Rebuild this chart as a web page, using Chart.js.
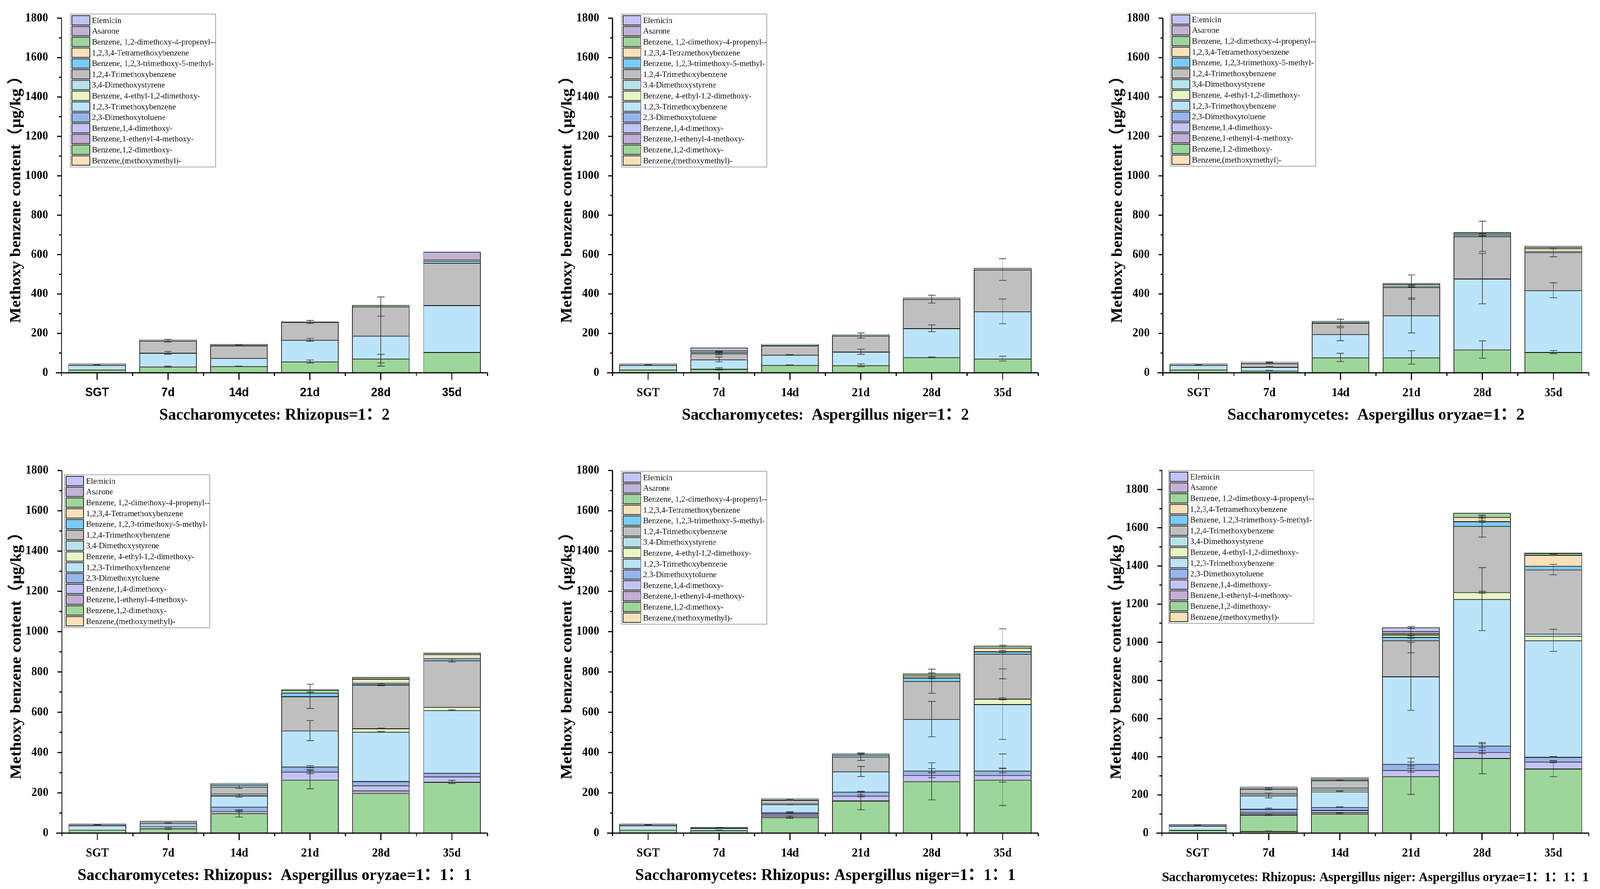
<!DOCTYPE html>
<html>
<head>
<meta charset="utf-8">
<title>Methoxy benzene content</title>
<script src="https://cdn.jsdelivr.net/npm/chart.js@4.4.1/dist/chart.umd.min.js"></script>
<style>
  html, body { margin: 0; padding: 0; background: #ffffff; overflow: hidden; }
  #sheet { position: absolute; left: 0; top: 0; width: 4317px; height: 2275px; transform-origin: 0 0; background: #fff; }
  #sheet canvas { position: absolute; }
</style>
</head>
<body>
<div id="sheet">
  <canvas id="p1"></canvas>
  <canvas id="p2"></canvas>
  <canvas id="p3"></canvas>
  <canvas id="p4"></canvas>
  <canvas id="p5"></canvas>
  <canvas id="p6"></canvas>
</div>
<script>
// Stacked methoxybenzene content, six fermentation groups

const days = ['SGT', '7d', '14d', '21d', '28d', '35d'];

// stack order, bottom to top (legend lists them top to bottom)
const compounds = [
  'Benzene,(methoxymethyl)-',
  'Benzene,1,2-dimethoxy-',
  'Benzene,1-ethenyl-4-methoxy-',
  'Benzene,1,4-dimethoxy-',
  '2,3-Dimethoxytoluene',
  '1,2,3-Trimethoxybenzene',
  'Benzene, 4-ethyl-1,2-dimethoxy-',
  '3,4-Dimethoxystyrene',
  '1,2,4-Trimethoxybenzene',
  'Benzene, 1,2,3-trimethoxy-5-methyl-',
  '1,2,3,4-Tetramethoxybenzene',
  'Benzene, 1,2-dimethoxy-4-propenyl--',
  'Asarone',
  'Elemicin'
];

const compoundColors = [
  '#f8e1b9', '#9dd69a', '#c2aed6', '#c3c3f9', '#97b5ec', '#bbe4fb', '#e6f7c4',
  '#b7e2ea', '#bfbfbf', '#7acbf5', '#f8e1b9', '#9dd69a', '#c2b2d6', '#c3c3f9'
];

// values in µg/kg, one row per compound, one column per day
const rhizopus12 = [
  [0.5, 0, 0, 0, 0, 0],
  [16, 31, 33, 57, 72, 105],
  [0.5, 0, 0, 0, 0, 0],
  [0.5, 0, 0, 0, 0, 0],
  [0.5, 0, 0, 0, 0, 0],
  [21, 70, 42, 110, 116, 238],
  [0.5, 0, 0, 0, 0, 0],
  [0.5, 0, 0, 0, 0, 0],
  [5, 62, 64, 91, 148, 215],
  [1, 2, 1, 1, 1, 11],
  [0.5, 1, 0, 0, 0, 7],
  [0.5, 3, 5, 2, 6, 1],
  [0.5, 1, 1, 1, 1, 37],
  [0.5, 0, 0, 0, 0, 1]
];
const rhizopus12Err = [
  [0, 0, 0, 0, 0, 0],
  [0, 3, 1, 8, 22, 0],
  [0, 0, 0, 0, 0, 0],
  [0, 0, 0, 0, 0, 0],
  [0, 0, 0, 0, 0, 0],
  [2, 7, 0, 7, 154, 0],
  [0, 0, 0, 0, 0, 0],
  [0, 0, 0, 0, 0, 0],
  [0, 7, 1, 8, 49, 0],
  [0, 0, 0, 0, 0, 0],
  [0, 0, 0, 0, 0, 0],
  [0, 0, 0, 0, 0, 0],
  [0, 0, 0, 0, 0, 0],
  [0, 0, 0, 0, 0, 0]
];

const niger12 = [
  [0.5, 0, 0, 0, 0, 0],
  [16, 20, 39, 38, 79, 72],
  [0.5, 0, 0, 0, 0, 0],
  [0.5, 0, 0, 0, 0, 0],
  [0.5, 0, 0, 0, 0, 0],
  [21, 48, 52, 69, 147, 240],
  [0.5, 1, 2, 0, 0, 0],
  [0.5, 1, 2, 0, 0, 0],
  [5, 28, 44, 82, 148, 212],
  [1, 6, 2, 1, 1, 1],
  [0.5, 3, 1, 1, 1, 1],
  [0.5, 6, 4, 4, 5, 6],
  [0.5, 3, 0, 0, 0, 0],
  [0.5, 12, 0, 0, 0, 0]
];
const niger12Err = [
  [0, 0, 0, 0, 0, 0],
  [0, 5, 1, 7, 1, 12],
  [0, 0, 0, 0, 0, 0],
  [0, 0, 0, 0, 0, 0],
  [0, 0, 0, 0, 0, 0],
  [2, 12, 1, 13, 17, 63],
  [0, 0, 0, 0, 0, 0],
  [0, 0, 0, 0, 0, 0],
  [0, 6, 0, 13, 20, 55],
  [0, 3, 0, 0, 0, 0],
  [0, 2, 0, 0, 0, 0],
  [0, 0, 0, 0, 0, 0],
  [0, 0, 0, 0, 0, 0],
  [0, 0, 0, 0, 0, 0]
];

const oryzae12 = [
  [0.5, 0, 0, 0, 0, 0],
  [16, 11, 78, 78, 118, 105],
  [0.5, 0, 0, 0, 0, 0],
  [0.5, 0, 0, 0, 0, 0],
  [0.5, 0, 0, 0, 0, 0],
  [21, 19, 118, 213, 360, 314],
  [0.5, 0, 0, 0, 0, 0],
  [0.5, 0, 0, 0, 0, 0],
  [5, 18, 58, 144, 215, 193],
  [1, 2, 2, 5, 8, 5],
  [0.5, 1, 1, 3, 3, 15],
  [0.5, 3, 5, 8, 8, 6],
  [0.5, 2, 1, 3, 1, 4],
  [0.5, 1, 0, 2, 0, 2]
];
const oryzae12Err = [
  [0, 0, 0, 0, 0, 0],
  [0, 1, 21, 34, 44, 8],
  [0, 0, 0, 0, 0, 0],
  [0, 0, 0, 0, 0, 0],
  [0, 0, 0, 0, 0, 0],
  [2, 2, 33, 89, 128, 38],
  [0, 0, 0, 0, 0, 0],
  [0, 0, 0, 0, 0, 0],
  [0, 2, 18, 62, 77, 23],
  [0, 0, 0, 4, 6, 0],
  [0, 0, 0, 0, 0, 3],
  [0, 2, 0, 0, 0, 0],
  [0, 0, 0, 0, 0, 0],
  [0, 0, 0, 0, 0, 0]
];

const rhizoOryzae111 = [
  [0.5, 0, 0, 0, 0, 0],
  [16, 23, 98, 265, 199, 254],
  [0.5, 3, 4, 1, 13, 0],
  [0.5, 4, 7, 39, 25, 27],
  [0.5, 5, 22, 25, 21, 18],
  [21, 14, 55, 179, 245, 311],
  [0.5, 1, 5, 0, 17, 16],
  [0.5, 1, 5, 0, 0, 0],
  [5, 6, 34, 170, 217, 231],
  [1, 2, 10, 18, 9, 11],
  [0.5, 1, 3, 2, 20, 20],
  [0.5, 1, 5, 13, 9, 7],
  [0.5, 1, 0, 1, 0, 0],
  [0.5, 1, 0, 0, 0, 0]
];
const rhizoOryzae111Err = [
  [0, 0, 0, 0, 0, 0],
  [0, 4, 18, 45, 0, 8],
  [0, 0, 0, 0, 0, 0],
  [0, 0, 3, 10, 0, 0],
  [0, 0, 0, 5, 0, 0],
  [2, 2, 8, 50, 2, 2],
  [0, 0, 0, 0, 1, 0],
  [0, 0, 0, 0, 0, 0],
  [0, 0, 8, 60, 5, 8],
  [0, 0, 0, 3, 0, 0],
  [0, 0, 0, 0, 0, 0],
  [0, 0, 0, 0, 0, 0],
  [0, 0, 0, 0, 0, 0],
  [0, 0, 0, 0, 0, 0]
];

const rhizoNiger111 = [
  [0.5, 0, 0, 0, 0, 0],
  [16, 14, 79, 161, 257, 265],
  [0.5, 1, 9, 2, 2, 0],
  [0.5, 1, 9, 22, 29, 23],
  [0.5, 1, 7, 20, 22, 22],
  [21, 8, 39, 101, 256, 330],
  [0.5, 0, 5, 0, 0, 27],
  [0.5, 0, 0, 0, 0, 1],
  [5, 4, 17, 73, 188, 222],
  [1, 1, 3, 10, 18, 12],
  [0.5, 0, 1, 2, 10, 18],
  [0.5, 1, 3, 4, 10, 10],
  [0.5, 0, 1, 1, 0, 0],
  [0.5, 0, 0, 0, 0, 0]
];
const rhizoNiger111Err = [
  [0, 0, 0, 0, 0, 0],
  [0, 1, 5, 45, 92, 128],
  [0, 0, 0, 0, 0, 0],
  [0, 0, 3, 5, 12, 35],
  [0, 0, 2, 3, 10, 10],
  [2, 1, 3, 25, 88, 175],
  [0, 0, 0, 0, 0, 5],
  [0, 0, 0, 0, 0, 0],
  [0, 0, 2, 18, 60, 124],
  [0, 0, 0, 0, 5, 5],
  [0, 0, 0, 0, 0, 0],
  [0, 0, 0, 3, 3, 3],
  [0, 0, 0, 0, 0, 0],
  [0, 0, 0, 0, 0, 0]
];

const rhizoNigerOryzae1111 = [
  [0.5, 10, 0, 0, 0, 0],
  [16, 86, 102, 298, 393, 338],
  [0.5, 8, 8, 1, 1, 0],
  [0.5, 7, 11, 31, 31, 36],
  [0.5, 16, 15, 32, 33, 25],
  [21, 70, 82, 459, 768, 611],
  [0.5, 6, 10, 0, 36, 23],
  [0.5, 6, 10, 0, 1, 12],
  [5, 23, 38, 189, 346, 336],
  [1, 4, 5, 18, 25, 19],
  [0.5, 2, 3, 12, 22, 58],
  [0.5, 3, 4, 8, 22, 10],
  [0.5, 2, 3, 10, 1, 1],
  [0.5, 1, 2, 20, 0, 0]
];
const rhizoNigerOryzae1111Err = [
  [0, 1, 0, 0, 0, 0],
  [0, 4, 3, 95, 82, 42],
  [0, 0, 0, 0, 0, 0],
  [0, 0, 0, 10, 8, 5],
  [0, 4, 2, 10, 10, 2],
  [2, 12, 2, 178, 165, 58],
  [0, 0, 0, 0, 5, 0],
  [0, 0, 0, 0, 0, 0],
  [0, 5, 2, 65, 58, 27],
  [0, 0, 0, 8, 5, 0],
  [0, 0, 0, 5, 5, 3],
  [0, 0, 0, 0, 0, 0],
  [0, 0, 0, 0, 0, 0],
  [0, 0, 0, 5, 0, 0]
];

const yTitle = 'Methoxy benzene content（μg/kg ）';
const serif = "'Liberation Serif', 'Times New Roman', 'Noto Sans CJK SC', serif";
const sans = "'Liberation Sans', Arial, 'Noto Sans CJK SC', sans-serif";

const panels = [
  { id: 'p1', left: 0, top: 0, width: 1440, height: 1137, row: 'top', values: rhizopus12, errors: rhizopus12Err,
    title: 'Saccharomycetes: Rhizopus=1：2', titleSize: 43, yMax: 1800, axisLen: 1149, legend: [190, 36], tickFamily: sans },
  { id: 'p2', left: 1487, top: 0, width: 1440, height: 1137, row: 'top', values: niger12, errors: niger12Err,
    title: 'Saccharomycetes:  Aspergillus niger=1：2', titleSize: 43, yMax: 1800, axisLen: 1148, legend: [190, 36], tickFamily: serif },
  { id: 'p3', left: 2972, top: 0, width: 1345, height: 1137, row: 'top', values: oryzae12, errors: oryzae12Err,
    title: 'Saccharomycetes:  Aspergillus oryzae=1：2', titleSize: 43, yMax: 1800, axisLen: 1149, legend: [186, 34], tickFamily: serif },
  { id: 'p4', left: 1, top: 1137, width: 1439, height: 1138, row: 'bottom', values: rhizoOryzae111, errors: rhizoOryzae111Err,
    title: 'Saccharomycetes: Rhizopus:  Aspergillus oryzae=1：1：1', titleSize: 43, yMax: 1800, axisLen: 1148, legend: [173, 78], tickFamily: serif },
  { id: 'p5', left: 1487, top: 1137, width: 1440, height: 1138, row: 'bottom', values: rhizoNiger111, errors: rhizoNiger111Err,
    title: 'Saccharomycetes: Rhizopus: Aspergillus niger=1：1：1', titleSize: 43, yMax: 1800, axisLen: 1148, legend: [190, 69], tickFamily: serif },
  { id: 'p6', left: 2969, top: 1137, width: 1348, height: 1138, row: 'bottom', values: rhizoNigerOryzae1111, errors: rhizoNigerOryzae1111Err,
    title: 'Saccharomycetes: Rhizopus: Aspergillus niger: Aspergillus oryzae=1：1：1：1', titleSize: 34, yMax: 1900, axisLen: 1152, legend: [184, 67], tickFamily: serif }
];

// axis lines with Origin-style major/minor ticks
const axesPlugin = {
  id: 'axesLines',
  afterDraw(chart) {
    const { ctx, chartArea: a, scales: { x, y } } = chart;
    const n = chart.data.labels.length;
    ctx.save();
    ctx.strokeStyle = '#000';
    ctx.lineWidth = 3;
    ctx.beginPath();
    ctx.moveTo(a.left, a.top);
    ctx.lineTo(a.left, a.bottom + 1.5);
    ctx.moveTo(a.left - 15, a.bottom);
    ctx.lineTo(a.right, a.bottom);
    for (let v = 0; v <= y.max; v += 100) {
      const py = y.getPixelForValue(v);
      ctx.moveTo(a.left, py);
      ctx.lineTo(a.left - (v % 200 === 0 ? 12 : 7), py);
    }
    for (let i = 0; i < n; i++) {
      const px = x.getPixelForValue(i);
      ctx.moveTo(px, a.bottom);
      ctx.lineTo(px, a.bottom + 18);
    }
    const step = (a.right - a.left) / n;
    for (let i = 0; i <= n; i++) {
      const bx = a.left + i * step;
      ctx.moveTo(bx, a.bottom);
      ctx.lineTo(bx, a.bottom + 8);
    }
    ctx.stroke();
    ctx.restore();
  }
};

// error bars sit on the top edge of each stacked segment
const errorBarPlugin = {
  id: 'stackErrors',
  afterDatasetsDraw(chart) {
    const { ctx, scales: { y } } = chart;
    const datasets = chart.data.datasets;
    ctx.save();
    ctx.strokeStyle = '#333';
    ctx.lineWidth = 1.6;
    datasets.forEach((ds, i) => {
      const meta = chart.getDatasetMeta(i);
      meta.data.forEach((bar, j) => {
        const e = ds.errors[j];
        if (!e) return;
        let top = 0;
        for (let k = 0; k <= i; k++) top += datasets[k].data[j];
        const y1 = y.getPixelForValue(top - e);
        const y2 = y.getPixelForValue(top + e);
        ctx.beginPath();
        ctx.moveTo(bar.x, y1);
        ctx.lineTo(bar.x, y2);
        ctx.moveTo(bar.x - 10, y1);
        ctx.lineTo(bar.x + 10, y1);
        ctx.moveTo(bar.x - 10, y2);
        ctx.lineTo(bar.x + 10, y2);
        ctx.stroke();
      });
    });
    ctx.restore();
  }
};

// boxed legend inside the plot, last dataset first
const boxLegendPlugin = {
  id: 'boxLegend',
  afterDraw(chart) {
    const pos = chart.config.options.legendPos;
    const ctx = chart.ctx;
    const rows = chart.data.datasets.slice().reverse();
    const pitch = 27.6;
    const w = 392, h = rows.length * pitch + 5;
    ctx.save();
    ctx.fillStyle = '#fff';
    ctx.fillRect(pos[0], pos[1], w, h);
    ctx.strokeStyle = '#8a8a8a';
    ctx.lineWidth = 1.5;
    ctx.strokeRect(pos[0], pos[1], w, h);
    ctx.font = '22px ' + serif;
    ctx.textBaseline = 'middle';
    rows.forEach((ds, i) => {
      const sy = pos[1] + 4 + i * pitch;
      ctx.fillStyle = ds.backgroundColor;
      ctx.fillRect(pos[0] + 4, sy, 48, 24);
      ctx.strokeStyle = '#222';
      ctx.lineWidth = 2;
      ctx.strokeRect(pos[0] + 4, sy, 48, 24);
      ctx.fillStyle = '#111';
      ctx.fillText(ds.label, pos[0] + 58, sy + 13);
    });
    ctx.restore();
  }
};

function buildPanel(p) {
  const canvas = document.getElementById(p.id);
  canvas.width = p.width;
  canvas.height = p.height;
  canvas.style.left = p.left + 'px';
  canvas.style.top = p.top + 'px';
  canvas.style.width = p.width + 'px';
  canvas.style.height = p.height + 'px';

  const padTop = p.row === 'top' ? 26 : 67;
  const xAxisHeight = p.row === 'top' ? 183 : 143;
  const titleBottom = p.row === 'top' ? 48 : 8;

  const datasets = compounds.map((name, i) => ({
    label: name,
    data: p.values[i],
    errors: p.errors[i],
    backgroundColor: compoundColors[i],
    borderColor: '#000',
    borderWidth: 2,
    barPercentage: 0.81,
    categoryPercentage: 1
  }));

  return new Chart(canvas.getContext('2d'), {
    type: 'bar',
    data: { labels: days, datasets: datasets },
    options: {
      responsive: false,
      animation: false,
      devicePixelRatio: window.devicePixelRatio || 1,
      legendPos: p.legend,
      layout: { padding: { left: 0, top: padTop, bottom: 0, right: p.width - 166 - p.axisLen } },
      plugins: {
        legend: { display: false },
        tooltip: { enabled: false }
      },
      scales: {
        x: {
          stacked: true,
          offset: true,
          grid: { display: false },
          border: { display: false },
          ticks: {
            color: '#000',
            padding: 25,
            maxRotation: 0,
            autoSkip: false,
            font: { family: p.tickFamily, size: 31, weight: 'bold' }
          },
          title: {
            display: true,
            text: p.title,
            color: '#000',
            padding: { top: 0, bottom: titleBottom },
            font: { family: serif, size: p.titleSize, weight: 'bold' }
          },
          afterFit: s => { s.height = xAxisHeight; }
        },
        y: {
          stacked: true,
          min: 0,
          max: p.yMax,
          grid: { display: false },
          border: { display: false },
          ticks: {
            stepSize: 200,
            includeBounds: false,
            color: '#000',
            padding: 28,
            callback: v => String(v),
            font: { family: serif, size: 31, weight: 'bold' }
          },
          title: {
            display: true,
            text: yTitle,
            color: '#000',
            padding: { top: 19, bottom: 0 },
            font: { family: serif, size: 42, weight: 'bold' }
          },
          afterFit: s => { s.width = 166; }
        }
      }
    },
    plugins: [errorBarPlugin, axesPlugin, boxLegendPlugin]
  });
}

// stretch the 4317 x 2275 sheet onto whatever viewport we get
function fitSheet() {
  const sheet = document.getElementById('sheet');
  const sx = window.innerWidth / 4317;
  const sy = window.innerHeight / 2275;
  if (Math.abs(sx - 1) > 0.001 || Math.abs(sy - 1) > 0.001) {
    sheet.style.transform = 'scale(' + sx + ',' + sy + ')';
  }
}

fitSheet();
panels.forEach(buildPanel);
</script>
</body>
</html>
